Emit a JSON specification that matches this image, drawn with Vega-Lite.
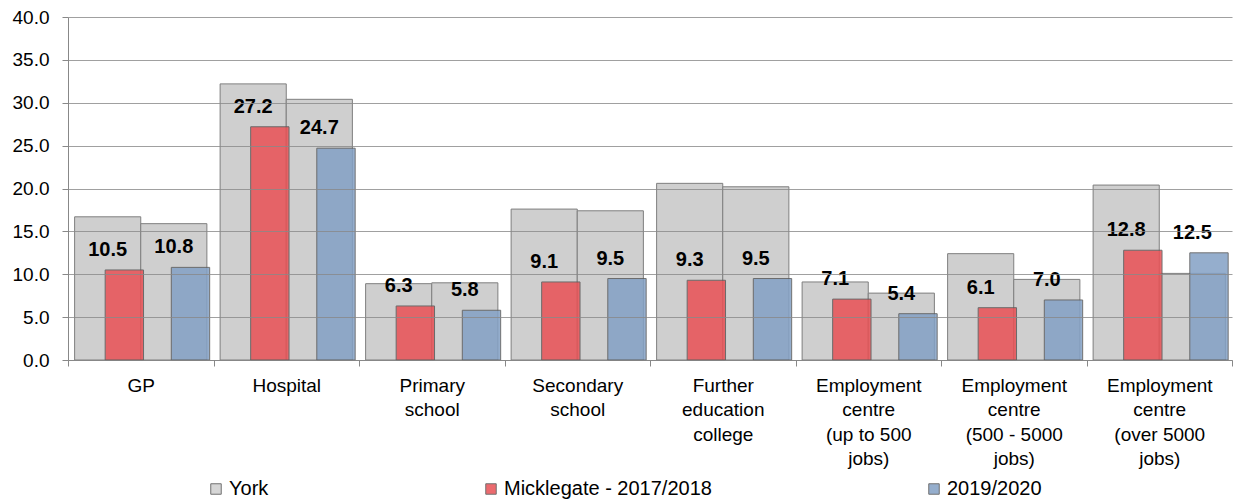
{
  "$schema": "https://vega.github.io/schema/vega-lite/v6.json",
  "autosize": {"type": "none"},
  "width": 1164,
  "height": 343,
  "padding": {"left": 68, "top": 17, "right": 2, "bottom": 142},
  "background": "white",
  "config": {
    "font": "Liberation Sans",
    "view": {"stroke": null},
    "axis": {"labelFont": "Liberation Sans", "labelFontSize": 19, "labelColor": "black", "domainColor": "#888888", "tickColor": "#888888", "gridColor": "#888888"}
  },
  "data": {
    "values": [
      {"category": "GP", "series": "Micklegate - 2017/2018", "york": 16.7, "local": 10.5},
      {"category": "GP", "series": "2019/2020", "york": 15.9, "local": 10.8},
      {"category": "Hospital", "series": "Micklegate - 2017/2018", "york": 32.2, "local": 27.2},
      {"category": "Hospital", "series": "2019/2020", "york": 30.4, "local": 24.7},
      {"category": "Primary\nschool", "series": "Micklegate - 2017/2018", "york": 8.9, "local": 6.3},
      {"category": "Primary\nschool", "series": "2019/2020", "york": 9.0, "local": 5.8},
      {"category": "Secondary\nschool", "series": "Micklegate - 2017/2018", "york": 17.6, "local": 9.1},
      {"category": "Secondary\nschool", "series": "2019/2020", "york": 17.4, "local": 9.5},
      {"category": "Further\neducation\ncollege", "series": "Micklegate - 2017/2018", "york": 20.6, "local": 9.3},
      {"category": "Further\neducation\ncollege", "series": "2019/2020", "york": 20.2, "local": 9.5},
      {"category": "Employment\ncentre\n(up to 500\njobs)", "series": "Micklegate - 2017/2018", "york": 9.1, "local": 7.1},
      {"category": "Employment\ncentre\n(up to 500\njobs)", "series": "2019/2020", "york": 7.8, "local": 5.4},
      {"category": "Employment\ncentre\n(500 - 5000\njobs)", "series": "Micklegate - 2017/2018", "york": 12.4, "local": 6.1},
      {"category": "Employment\ncentre\n(500 - 5000\njobs)", "series": "2019/2020", "york": 9.4, "local": 7.0},
      {"category": "Employment\ncentre\n(over 5000\njobs)", "series": "Micklegate - 2017/2018", "york": 20.4, "local": 12.8},
      {"category": "Employment\ncentre\n(over 5000\njobs)", "series": "2019/2020", "york": 10.1, "local": 12.5}
    ]
  },
  "encoding": {
    "x": {
      "field": "category", "type": "nominal", "sort": null, "title": null,
      "scale": {"paddingInner": 0, "paddingOuter": 0},
      "axis": {"labelAngle": 0, "tickBand": "extent", "tickSize": 6, "labelPadding": 10, "labelLineHeight": 24.5, "labelExpr": "split(datum.label, '\\n')", "labelBaseline": "top", "grid": false}
    },
    "xOffset": {"field": "series", "type": "nominal", "sort": ["Micklegate - 2017/2018", "2019/2020"], "scale": {"paddingInner": 0, "paddingOuter": 0.1}}
  },
  "layer": [
    {
      "mark": {"type": "bar", "stroke": "#7f7f7f", "strokeWidth": 1},
      "encoding": {
        "y": {"field": "york", "type": "quantitative", "title": null, "scale": {"domain": [0, 40]},
          "axis": {"values": [0, 5, 10, 15, 20, 25, 30, 35, 40], "format": ".1f", "tickSize": 6, "labelPadding": 13, "grid": true, "gridOpacity": 0.8, "zindex": 1, "domain": true}},
        "color": {"datum": "York", "type": "nominal", "title": null,
          "scale": {"domain": ["York", "Micklegate - 2017/2018", "2019/2020"], "range": ["#cfcfcf", "#e95155", "#83a1c5"]},
          "legend": {"title": null, "orient": "none", "legendX": 138, "legendY": 462, "direction": "horizontal", "columns": 3, "gridAlign": "each", "columnPadding": 212, "symbolType": "square", "symbolSize": 110, "symbolStrokeColor": "#7f7f7f", "symbolStrokeWidth": 1, "symbolOpacity": 1, "labelFontSize": 20, "labelFont": "Liberation Sans", "labelColor": "black", "labelOffset": 3, "labelLimit": 400, "padding": 0}}
      }
    },
    {
      "mark": {"type": "bar", "width": {"band": 0.58}, "stroke": "#5a5a5a", "strokeWidth": 1, "opacity": 0.85},
      "encoding": {
        "y": {"field": "local", "type": "quantitative"},
        "color": {"field": "series", "type": "nominal", "title": null}
      }
    },
    {
      "mark": {"type": "text", "fontWeight": "bold", "fontSize": 20, "font": "Liberation Sans", "color": "black", "baseline": "alphabetic", "dy": -14},
      "encoding": {
        "y": {"field": "local", "type": "quantitative"},
        "text": {"field": "local", "type": "quantitative", "format": ".1f"}
      }
    }
  ]
}
